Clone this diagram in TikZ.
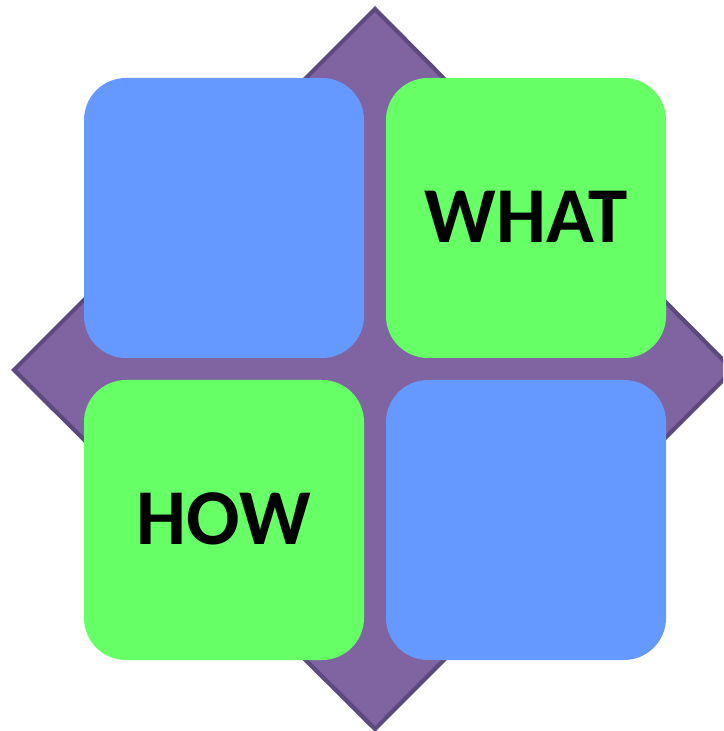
\documentclass[tikz,border=0pt]{standalone}
\usepackage{fontspec}
\setsansfont{Carlito}
\definecolor{diafill}{HTML}{8064A2}
\definecolor{diaedge}{HTML}{5C4A7E}
\definecolor{boxblue}{HTML}{6699FF}
\definecolor{boxgreen}{HTML}{66FF66}
\begin{document}
\begin{tikzpicture}[x=0.01cm,y=-0.01cm,
  tile/.style={rounded corners=0.42cm,draw=none},
  lbl/.style={font=\sffamily\bfseries\fontsize{22.5}{26}\selectfont,text=black}]
\useasboundingbox (0,0) rectangle (723,731);
\clip (0,0) rectangle (723,731);
\draw[fill=diafill,draw=diaedge,line width=1.2pt] (375,9) -- (733,370) -- (375,729) -- (14,370) -- cycle;
\fill[tile,fill=boxblue] (84,78) rectangle (364,358);
\fill[tile,fill=boxgreen] (386,78) rectangle (666,358);
\fill[tile,fill=boxgreen] (84,380) rectangle (364,660);
\fill[tile,fill=boxblue] (386,380) rectangle (666,660);
\node[lbl] (what) at (526,217) {WHAT};
\node[lbl] (how) at (224,519) {HOW};
\end{tikzpicture}
\end{document}
